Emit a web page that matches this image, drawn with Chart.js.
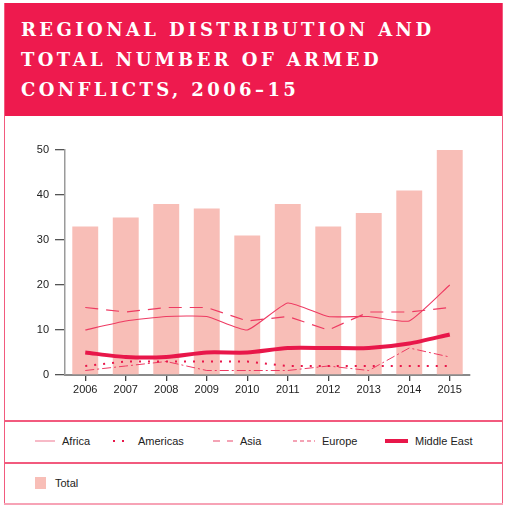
<!DOCTYPE html>
<html>
<head>
<meta charset="utf-8">
<script src="https://cdn.jsdelivr.net/npm/chart.js@4"></script>
<style>
  html,body{margin:0;padding:0;background:#fff;}
  body{width:508px;height:510px;position:relative;overflow:hidden;font-family:"Liberation Sans",Arial,sans-serif;}
  #frame{position:absolute;left:4px;top:3px;width:497px;height:501px;border:1.5px solid #F25A7E;border-top:none;box-sizing:content-box;}
  #header{position:absolute;left:4px;top:3px;width:499px;height:113px;background:#EE1A4E;}
  #title{position:absolute;left:21px;top:15px;color:#fff;font-family:"DejaVu Serif","Liberation Serif",serif;font-weight:bold;font-size:18px;letter-spacing:3.4px;line-height:30px;white-space:nowrap;}
  #chartbox{position:absolute;left:0;top:120px;width:508px;height:300px;}
  .sep{position:absolute;left:4px;width:499px;height:1.5px;background:#F25A7E;}
  .leg{position:absolute;font-size:11px;color:#222;line-height:14px;white-space:nowrap;}
  .leg svg{position:absolute;}
</style>
</head>
<body>
<div id="header"></div>
<div id="frame"></div>
<div id="title">REGIONAL DISTRIBUTION AND<br>TOTAL NUMBER OF ARMED<br>CONFLICTS, 2006–15</div>
<div id="chartbox"><canvas id="c"></canvas></div>
<div class="sep" style="top:420px"></div>
<div class="sep" style="top:462px"></div>
<div class="sep" style="top:503px;background:#F7A3B6"></div>
<div id="legend"></div>
<script>
const years = ["2006","2007","2008","2009","2010","2011","2012","2013","2014","2015"];
const total      = [33, 35, 38, 37, 31, 38, 33, 36, 41, 50];
const africa     = [10, 12, 13, 13, 10, 16, 13, 13, 12, 20];
const americas   = [2, 3, 3, 3, 3, 2, 2, 2, 2, 2];
const asia       = [15, 14, 15, 15, 12, 13, 10, 14, 14, 15];
const europe     = [1, 2, 3, 1, 1, 1, 2, 1, 6, 4];
const middleEast = [5, 4, 4, 5, 5, 6, 6, 6, 7, 9];
const yTicks = [0, 10, 20, 30, 40, 50];

const series = [
  {label:"Africa", data:africa, color:"#EE3A62", width:1.1, dash:[], legColor:"#F4A3B5", legDash:"", legWidth:1.5, tension:0.15},
  {label:"Americas", data:americas, color:"#E8174A", width:2, dash:[2,7], legColor:"#E8174A", legDash:"2,7", legWidth:2, tension:0},
  {label:"Asia", data:asia, color:"#EE3A62", width:1.2, dash:[13,8], legColor:"#F4A3B5", legDash:"7,7", legWidth:1.8, tension:0},
  {label:"Europe", data:europe, color:"#EE3A62", width:1, dash:[9,3,2,3], legColor:"#F4A3B5", legDash:"4,3", legWidth:1.8, tension:0},
  {label:"Middle East", data:middleEast, color:"#E8174A", width:4, dash:[], legColor:"#E8174A", legDash:"", legWidth:4, tension:0.25}
];

const datasets = series.map(s => ({
  type:'line', label:s.label, data:s.data, borderColor:s.color, borderWidth:s.width,
  borderDash:s.dash, pointRadius:0, tension:s.tension, fill:false, order:1
}));
datasets.push({type:'bar', label:'Total', data:total, backgroundColor:'#F8BEB7', borderWidth:0,
  barPercentage:0.64, categoryPercentage:1, order:10});

new Chart(document.getElementById('c'), {
  data:{labels:years, datasets:datasets},
  options:{
    responsive:true, maintainAspectRatio:false, animation:false,
    layout:{padding:{top:30, bottom:20, left:4, right:38}},
    plugins:{legend:{display:false}, tooltip:{enabled:false}},
    scales:{
      x:{
        offset:true,
        grid:{display:true, offset:false, drawOnChartArea:false, drawTicks:true, tickLength:6, tickColor:'#444', lineWidth:1.3},
        border:{display:true, color:'#8a8a8a', width:2},
        ticks:{color:'#222', font:{family:'Liberation Sans', size:11}, padding:2, maxRotation:0},
        afterFit:(s)=>{s.height=25;}
      },
      y:{
        min:0, max:50,
        afterBuildTicks:(s)=>{s.ticks = yTicks.map(v=>({value:v}));},
        grid:{display:true, drawOnChartArea:false, drawTicks:true, tickLength:10, tickColor:'#555', lineWidth:1.3},
        border:{display:true, color:'#9a9a9a', width:1.5},
        ticks:{color:'#222', font:{family:'Liberation Sans', size:11}, padding:6},
        afterFit:(s)=>{s.width=61;}
      }
    }
  }
});

// HTML legend built from the series definitions
const legend = document.getElementById('legend');
const legX = [35, 113, 213, 293, 385];
const legW = [20, 18, 20, 22, 23];
series.forEach((s,i)=>{
  const d = document.createElement('div');
  d.className='leg';
  d.style.left = legX[i]+'px';
  d.style.top = '434px';
  d.style.paddingLeft = (legW[i]+7)+'px';
  d.innerHTML = `<svg width="${legW[i]}" height="14" style="left:0;top:0"><line x1="0" y1="7" x2="${legW[i]}" y2="7" stroke="${s.legColor}" stroke-width="${s.legWidth}" ${s.legDash?`stroke-dasharray="${s.legDash}"`:''}/></svg>${s.label}`;
  legend.appendChild(d);
});
const t = document.createElement('div');
t.className='leg';
t.style.left='35px'; t.style.top='476px'; t.style.paddingLeft='20px';
t.innerHTML = `<svg width="11" height="12" style="left:0;top:1px"><rect x="0" y="0" width="11" height="12" fill="#F8BEB7"/></svg>Total`;
legend.appendChild(t);
</script>
</body>
</html>
